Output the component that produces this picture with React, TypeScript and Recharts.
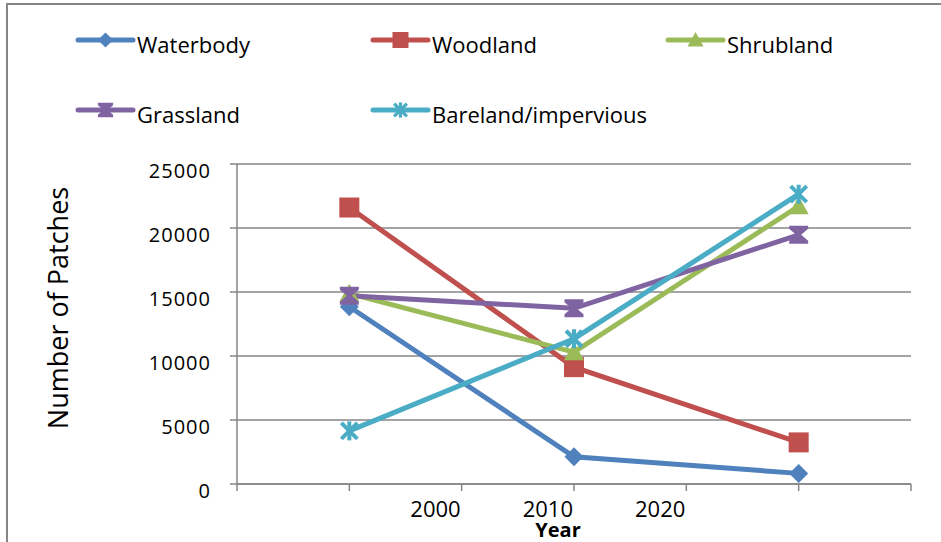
import React from "react";
import {
  LineChart,
  Line,
  XAxis,
  YAxis,
  CartesianGrid,
  Legend,
  Label,
} from "recharts";

// slot positions of the three survey points on the category axis
const pointSlots = [1, 3, 5];
const axisSlots = [0, 1, 2, 3, 4, 5, 6];

const waterbody = [13850, 2130, 830];
const woodland = [21600, 9130, 3250];
const shrubland = [14870, 10300, 21700];
const grassland = [14700, 13730, 19470];
const bareland = [4150, 11350, 22640];

const yearTicks = [2, 3, 4];
const yearLabels = ["2000", "2010", "2020"];
const yTicks = [0, 5000, 10000, 15000, 20000, 25000];

const FONT = "'Open Sans', 'Liberation Sans', sans-serif";
const AXIS_GRAY = "#868686";

type Shape = "diamond" | "square" | "triangle" | "hourglass" | "asterisk";

const series: { name: string; values: number[]; color: string; shape: Shape }[] = [
  { name: "Waterbody", values: waterbody, color: "#4F81BD", shape: "diamond" },
  { name: "Woodland", values: woodland, color: "#C0504D", shape: "square" },
  { name: "Shrubland", values: shrubland, color: "#9BBB59", shape: "triangle" },
  { name: "Grassland", values: grassland, color: "#8064A2", shape: "hourglass" },
  { name: "Bareland/impervious", values: bareland, color: "#4BACC6", shape: "asterisk" },
];

const rows = pointSlots.map((slot, i) => {
  const row: Record<string, number> = { slot };
  series.forEach((s) => {
    row[s.name] = s.values[i];
  });
  return row;
});

function Marker({ shape, cx, cy, color, s = 1 }: { shape: Shape; cx: number; cy: number; color: string; s?: number }) {
  switch (shape) {
    case "diamond":
      return (
        <polygon
          points={`${cx},${cy - 9.5 * s} ${cx + 9.5 * s},${cy} ${cx},${cy + 9.5 * s} ${cx - 9.5 * s},${cy}`}
          fill={color}
        />
      );
    case "square":
      return <rect x={cx - 10 * s} y={cy - 10 * s} width={20 * s} height={20 * s} fill={color} />;
    case "triangle":
      return (
        <polygon
          points={`${cx},${cy - 10 * s} ${cx + 10 * s},${cy + 8 * s} ${cx - 10 * s},${cy + 8 * s}`}
          fill={color}
        />
      );
    case "hourglass": {
      const w = 9.5 * s;
      const h = 9 * s;
      const n = 2.5 * s;
      const e = 6 * s;
      return (
        <polygon
          points={`${cx - w},${cy - h} ${cx + w},${cy - h} ${cx + w},${cy - e} ${cx + n},${cy} ${cx + w},${cy + e} ${cx + w},${cy + h} ${cx - w},${cy + h} ${cx - w},${cy + e} ${cx - n},${cy} ${cx - w},${cy - e}`}
          fill={color}
        />
      );
    }
    case "asterisk": {
      const d = 8 * s;
      return (
        <g stroke={color} strokeWidth={4 * s} strokeLinecap="butt">
          <line x1={cx - d} y1={cy - d} x2={cx + d} y2={cy + d} />
          <line x1={cx - d} y1={cy + d} x2={cx + d} y2={cy - d} />
          <line x1={cx} y1={cy - 9.5 * s} x2={cx} y2={cy + 9.5 * s} />
        </g>
      );
    }
  }
  return null;
}

const legendCols = [78, 373, 668];
const legendRows = [40, 110];

// legend laid out in series order, three per row
function LegendBlock({ payload }: any) {
  const items = payload || [];
  return (
    <svg width={941} height={140} style={{ position: "absolute", left: 0, top: 0, overflow: "visible" }}>
      {items.map((entry: any) => {
        const idx = series.findIndex((x) => x.name === entry.value);
        if (idx < 0) return null;
        const s = series[idx];
        const x0 = legendCols[idx % 3];
        const y0 = legendRows[Math.floor(idx / 3)];
        return (
          <g key={s.name}>
            <line x1={x0} y1={y0} x2={x0 + 55} y2={y0} stroke={s.color} strokeWidth={5} strokeLinecap="round" />
            <Marker shape={s.shape} cx={x0 + 27.5} cy={y0} color={s.color} s={0.8} />
            <text x={x0 + 59} y={y0 + 13} fontSize={22} fontFamily={FONT} fill="#000">
              {s.name}
            </text>
          </g>
        );
      })}
    </svg>
  );
}

function YearTick({ x, y, payload }: any) {
  const idx = yearTicks.indexOf(payload.value);
  if (idx < 0) return <g />;
  return (
    <text x={x - 1} y={y + 26} textAnchor="end" fontSize={22} fontFamily={FONT} fill="#000">
      {yearLabels[idx]}
    </text>
  );
}

function CountTick({ x, y, payload }: any) {
  return (
    <text x={x} y={y + 14} textAnchor="end" fontSize={20} letterSpacing={1} fontFamily={FONT} fill="#000">
      {payload.value}
    </text>
  );
}

export default function App() {
  return (
    <div style={{ position: "absolute", left: 0, top: 0, width: 941, height: 542, background: "#fff", overflow: "hidden" }}>
      <div
        style={{
          position: "absolute",
          left: 6,
          top: 3,
          width: 960,
          height: 560,
          borderTop: `2px solid ${AXIS_GRAY}`,
          borderLeft: `2px solid ${AXIS_GRAY}`,
        }}
      />
      <LineChart
        width={941}
        height={542}
        data={rows}
        margin={{ top: 164, right: 30, bottom: 0, left: 0 }}
        style={{ position: "absolute", left: 0, top: 0 }}
      >
        <CartesianGrid vertical={false} stroke={AXIS_GRAY} strokeWidth={1.5} />
        <XAxis
          dataKey="slot"
          type="number"
          domain={[0, 6]}
          ticks={axisSlots}
          interval={0}
          height={58}
          tickSize={7}
          tickMargin={0}
          stroke={AXIS_GRAY}
          strokeWidth={1.5}
          tick={<YearTick />}
        >
          <Label
            content={({ viewBox }: any) => (
              <text
                x={viewBox.x + viewBox.width / 2 - 16}
                y={viewBox.y + 53}
                textAnchor="middle"
                fontSize={20}
                fontWeight="bold"
                fontFamily={FONT}
                fill="#000"
              >
                Year
              </text>
            )}
          />
        </XAxis>
        <YAxis
          domain={[0, 25000]}
          ticks={yTicks}
          width={237}
          tickSize={7}
          tickMargin={19}
          stroke={AXIS_GRAY}
          strokeWidth={1.5}
          tick={<CountTick />}
        >
          <Label
            content={({ viewBox }: any) => {
              const cx = 68;
              const cy = viewBox.y + viewBox.height / 2 - 16;
              return (
                <text
                  x={cx}
                  y={cy}
                  transform={`rotate(-90, ${cx}, ${cy})`}
                  textAnchor="middle"
                  fontSize={27}
                  fontFamily={FONT}
                  fill="#000"
                >
                  Number of Patches
                </text>
              );
            }}
          />
        </YAxis>
        <Legend
          verticalAlign="top"
          content={<LegendBlock />}
          wrapperStyle={{ position: "absolute", left: 0, top: 0, width: 941, height: 0, overflow: "visible" }}
        />
        {series.map((s) => (
          <Line
            key={s.name}
            type="linear"
            dataKey={s.name}
            name={s.name}
            stroke={s.color}
            strokeWidth={5}
            isAnimationActive={false}
            activeDot={false}
            dot={(p: any) => (
              <Marker key={`${s.name}-${p.index}`} shape={s.shape} cx={p.cx} cy={p.cy} color={s.color} />
            )}
          />
        ))}
      </LineChart>
    </div>
  );
}
